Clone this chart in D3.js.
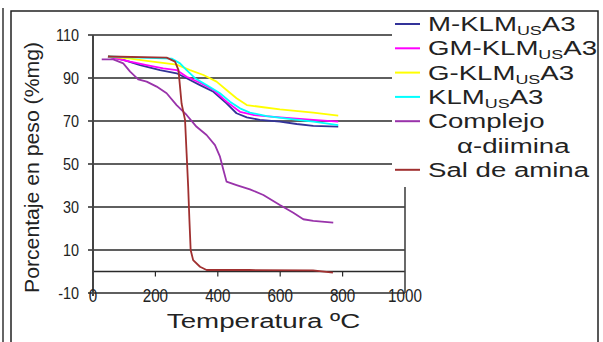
<!DOCTYPE html>
<html>
<head>
<meta charset="utf-8">
<script src="https://cdn.jsdelivr.net/npm/d3@7"></script>
<style>
  html, body { margin: 0; padding: 0; background: #fff; }
  svg { display: block; font-family: "Liberation Sans", Arial, sans-serif; }
</style>
</head>
<body>
<div id="chart"></div>
<script>
// Tick labels
const yTicks = [110, 90, 70, 50, 30, 10, -10]
const xTicks = [0, 200, 400, 600, 800, 1000]

// Series (temperature ºC, weight %)
const mTemp = [48, 97, 151, 215, 268, 300, 343, 386, 428, 460, 493, 535, 599, 653, 706, 786]
const mWeight = [100, 98.4, 96, 93.7, 92.2, 89.9, 86.7, 83.6, 78.2, 73.6, 71.7, 70.5, 69.7, 68.6, 67.7, 67.4]

const gmTemp = [48, 119, 172, 225, 268, 300, 343, 386, 428, 471, 514, 599, 706, 786]
const gmWeight = [100, 97.6, 96, 94.5, 93.7, 90.6, 87.8, 84.4, 79, 74.3, 72.8, 71.7, 70.5, 69.7]

const gTemp = [48, 120, 172, 236, 268, 311, 354, 396, 428, 460, 493, 546, 599, 706, 786]
const gWeight = [100, 99, 98, 96.8, 96.2, 93.7, 91.4, 88.3, 84.4, 80.6, 77.4, 76.4, 75.4, 73.9, 72.5]

const klmTemp = [48, 150, 252, 279, 300, 327, 364, 407, 439, 471, 503, 557, 642, 706, 786]
const klmWeight = [100, 99.5, 99, 96.8, 93.7, 89.9, 86.7, 82.9, 79, 75.9, 73.9, 72.3, 70.8, 69.7, 68.1]

const compTemp = [28, 65, 97, 119, 145, 172, 204, 236, 268, 300, 332, 364, 391, 407, 418, 428, 460, 503, 546, 599, 642, 674, 706, 770]
const compWeight = [98.7, 98.7, 96.8, 93, 89.4, 88.3, 86, 82.9, 77.4, 72.8, 67.3, 63.5, 58.8, 53.4, 47.2, 41.8, 40.2, 38.2, 35.6, 30.9, 27.3, 24.3, 23.5, 22.7]

const salTemp = [48, 236, 263, 274, 284, 295, 300, 305, 309, 313, 321, 343, 364, 500, 705, 769]
const salWeight = [100, 99.5, 97.6, 93.7, 78, 70.5, 55, 39.5, 24, 10, 5.3, 2.2, 0.7, 0.7, 0.5, -0.5]

const series = [
  { name: "M-KLM", sub: "US", tail: "A3", color: "#333399", t: mTemp, v: mWeight },
  { name: "GM-KLM", sub: "US", tail: "A3", color: "#ff00ff", t: gmTemp, v: gmWeight },
  { name: "G-KLM", sub: "US", tail: "A3", color: "#ffff00", t: gTemp, v: gWeight },
  { name: "KLM", sub: "US", tail: "A3", color: "#00ffff", t: klmTemp, v: klmWeight },
  { name: "Complejo", extra: "α-diimina", color: "#9933aa", t: compTemp, v: compWeight },
  { name: "Sal de amina", color: "#a03030", t: salTemp, v: salWeight }
]

const width = 603, height = 342
const svg = d3.select("#chart").append("svg")
  .attr("width", width).attr("height", height)

const x = d3.scaleLinear().domain([0, 1000]).range([93, 405])
const y = d3.scaleLinear().domain([-10, 110]).range([293, 35])

// outer frame
svg.append("line").attr("x1", 3).attr("x2", 3).attr("y1", 8).attr("y2", height)
  .attr("stroke", "#333").attr("stroke-width", 1.5)
svg.append("path").attr("d", `M11,${height}V11H598V${height}`)
  .attr("fill", "none").attr("stroke", "#222").attr("stroke-width", 1.5)

// gridlines
const grid = svg.append("g")
grid.selectAll("line.grid").data(yTicks).enter().append("line")
  .attr("x1", x(0) - 5).attr("x2", x(1000))
  .attr("y1", d => y(d)).attr("y2", d => y(d))
  .attr("stroke", "#2a2a2a").attr("stroke-width", 1.4)

// horizontal axis at 0
grid.append("line")
  .attr("x1", x(0)).attr("x2", x(1000)).attr("y1", y(0)).attr("y2", y(0))
  .attr("stroke", "#2a2a2a").attr("stroke-width", 1.4)
grid.selectAll("line.xt").data(xTicks.slice(1, -1)).enter().append("line")
  .attr("x1", d => x(d)).attr("x2", d => x(d))
  .attr("y1", y(0)).attr("y2", y(0) + 5)
  .attr("stroke", "#2a2a2a").attr("stroke-width", 1.2)

// plot area sides
grid.append("line").attr("x1", x(0)).attr("x2", x(0)).attr("y1", y(110)).attr("y2", y(-10) + 3)
  .attr("stroke", "#444").attr("stroke-width", 2)
grid.append("line").attr("x1", x(1000)).attr("x2", x(1000)).attr("y1", y(110)).attr("y2", y(-10))
  .attr("stroke", "#444").attr("stroke-width", 1.6)

// series
const line = d3.line().x(d => x(d[0])).y(d => y(d[1]))
series.forEach(s => {
  svg.append("path")
    .datum(s.t.map((t, i) => [t, s.v[i]]))
    .attr("d", line)
    .attr("fill", "none")
    .attr("stroke", s.color)
    .attr("stroke-width", 1.8)
    .attr("stroke-linejoin", "round")
})

// y labels
yTicks.forEach(d => {
  svg.append("text")
    .attr("transform", `translate(79,${y(d) + 6}) scale(0.9,1)`)
    .attr("text-anchor", "end")
    .attr("font-size", 16)
    .attr("fill", "#222")
    .text(d)
})

// x labels
xTicks.forEach(d => {
  svg.append("text")
    .attr("transform", `translate(${x(d)},302) scale(0.8,1)`)
    .attr("text-anchor", "middle")
    .attr("font-size", 19)
    .attr("fill", "#222")
    .text(d)
})

// axis titles
svg.append("text")
  .attr("transform", "translate(263.5,328) scale(1.32,1)")
  .attr("text-anchor", "middle")
  .attr("font-size", 21)
  .attr("fill", "#222")
  .text("Temperatura ºC")

svg.append("text")
  .attr("transform", "translate(38.5,167.5) rotate(-90)")
  .attr("text-anchor", "middle")
  .attr("font-size", 21)
  .attr("fill", "#222")
  .attr("textLength", 251)
  .attr("lengthAdjust", "spacingAndGlyphs")
  .text("Porcentaje en peso (%mg)")

// legend
svg.append("rect").attr("x", 392).attr("y", 12).attr("width", 205).attr("height", 175)
  .attr("fill", "#fff")

const rowY = i => 24 + 24.3 * i
let row = 0
series.forEach(s => {
  const cy = rowY(row)
  svg.append("line").attr("x1", 395).attr("x2", 420).attr("y1", cy).attr("y2", cy)
    .attr("stroke", s.color).attr("stroke-width", 2)
  const t = svg.append("text")
    .attr("transform", `translate(428,${cy + 7}) scale(1.38,1)`)
    .attr("font-size", 20)
    .attr("fill", "#222")
  t.append("tspan").text(s.name)
  if (s.sub) {
    t.append("tspan").attr("font-size", 13).attr("dy", 4).text(s.sub)
    t.append("tspan").attr("dy", -4).text(s.tail)
  }
  row++
  if (s.extra) {
    svg.append("text")
      .attr("transform", `translate(457,${rowY(row) + 7}) scale(1.38,1)`)
      .attr("font-size", 20)
      .attr("fill", "#222")
      .text(s.extra)
    row++
  }
})
</script>
</body>
</html>
